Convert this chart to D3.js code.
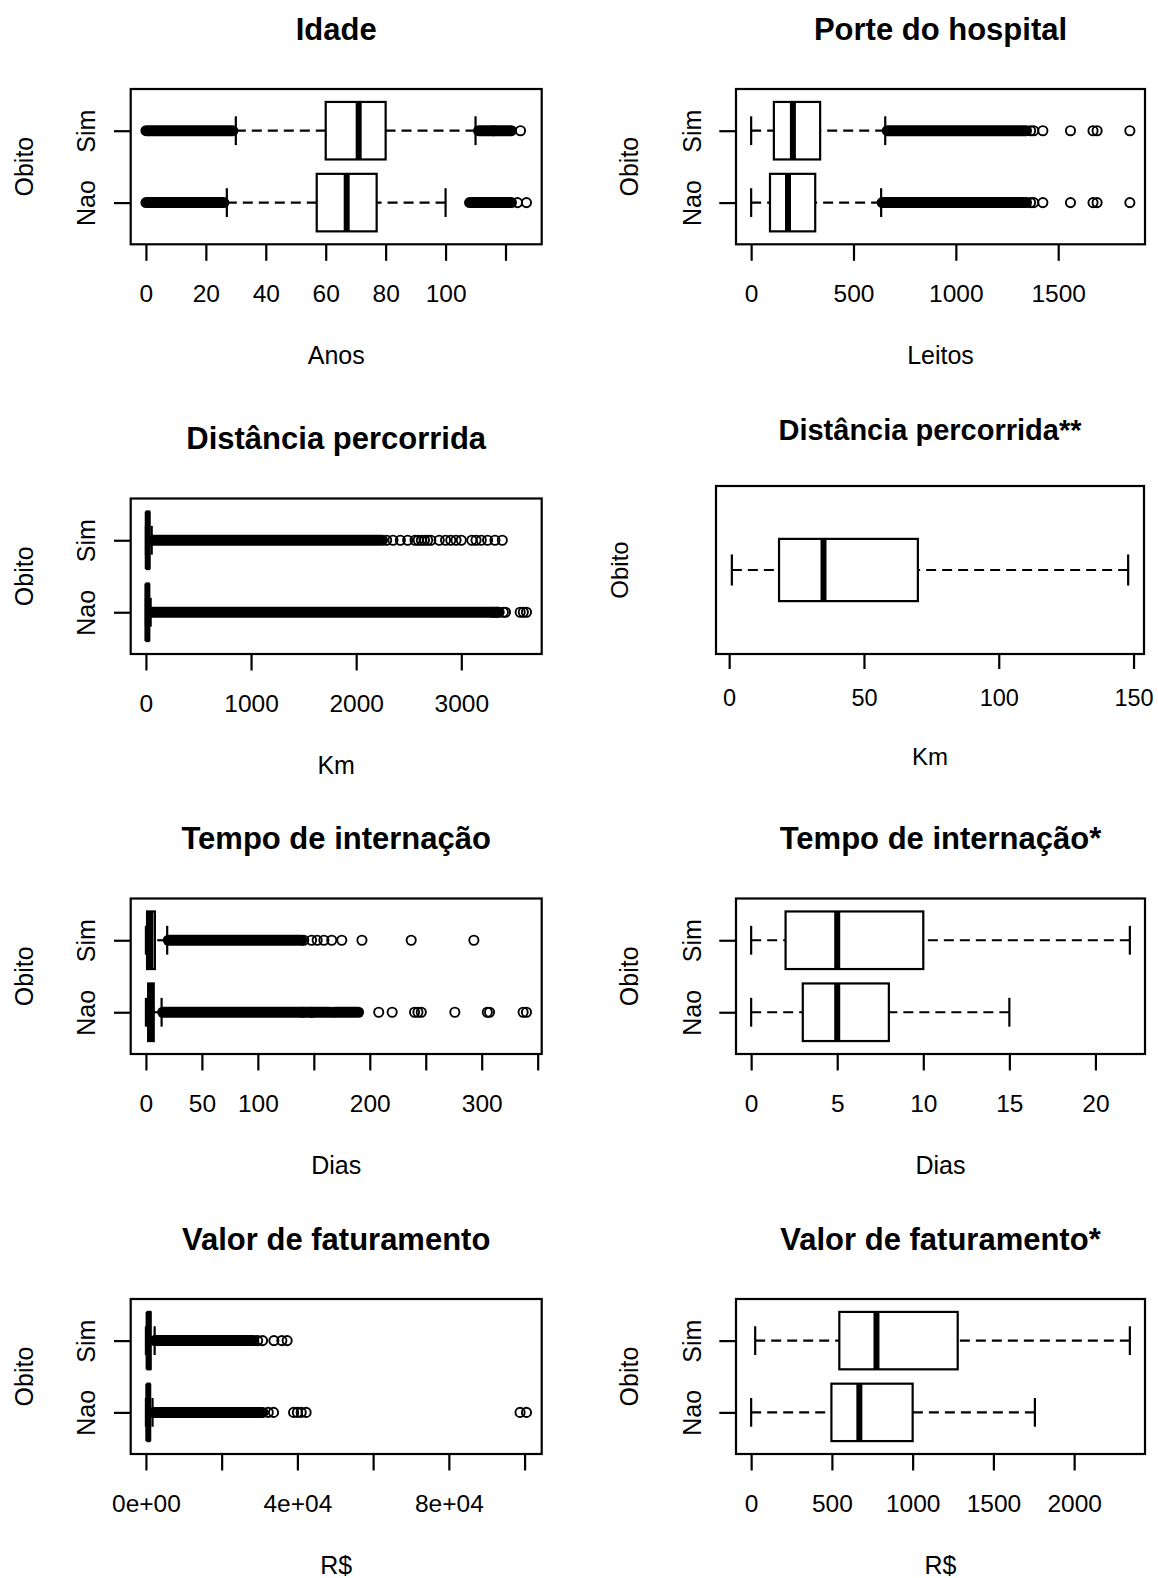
<!DOCTYPE html>
<html>
<head>
<meta charset="utf-8">
<script src="https://cdn.jsdelivr.net/npm/d3@7"></script>
<style>
  body { margin: 0; background: #ffffff; }
  svg { display: block; font-family: "Liberation Sans", Arial, sans-serif; }
</style>
</head>
<body>
<div id="d3-chart-wrapper"></div>
<script>
/**
 * Data (stats = [lower whisker, Q1, median, Q3, upper whisker])
 * runs = stretches of outliers so dense that the circles merge
 */
const groups = ["Nao", "Sim"];

// Idade
const idadeSim = [30, 60, 71, 80, 110];
const idadeNao = [27, 57, 67, 77, 100];
const idadeSimRuns = [[0, 29], [111, 122]];
const idadeNaoRuns = [[0, 26], [108, 122]];
const idadeSimOut = [116, 125];
const idadeNaoOut = [124, 127];
const idadeTicks = [0, 20, 40, 60, 80, 100, 120];
const idadeLabels = ["0", "20", "40", "60", "80", "100", ""];

// Porte do hospital
const leitosSim = [0, 111, 204, 337, 655];
const leitosNao = [0, 92, 180, 313, 635];
const leitosSimRuns = [[665, 1345]];
const leitosNaoRuns = [[640, 1345]];
const leitosSimOut = [1365, 1380, 1425, 1560, 1670, 1690, 1850];
const leitosNaoOut = [1365, 1380, 1425, 1560, 1670, 1690, 1850];
const leitosTicks = [0, 500, 1000, 1500];
const leitosLabels = ["0", "500", "1000", "1500"];

// Distancia percorrida
const kmSim = [0, 8, 17, 30, 55];
const kmNao = [0, 6, 14, 26, 45];
const kmSimRuns = [[57, 2250]];
const kmNaoRuns = [[47, 3360]];
const kmSimOut = [2290, 2350, 2420, 2490, 2560, 2590, 2620, 2650, 2680, 2710,
  2790, 2850, 2900, 2950, 3000, 3100, 3140, 3190, 3250, 3320, 3390];
const kmNaoOut = [3300, 3340, 3400, 3420, 3560, 3590, 3620];
const kmTicks = [0, 1000, 2000, 3000];
const kmLabels = ["0", "1000", "2000", "3000"];

// Distancia percorrida**
const kmSub = [1, 18.5, 35, 70, 148];
const kmSubTicks = [0, 50, 100, 150];
const kmSubLabels = ["0", "50", "100", "150"];

// Tempo de internacao
const diasSim = [0, 1, 4, 8, 19];
const diasNao = [0, 2, 4, 7, 14];
const diasSimRuns = [[20, 139]];
const diasNaoRuns = [[15, 164], [169, 190]];
const diasSimOut = [141, 148, 153, 159, 166, 175, 193, 237, 293];
const diasNaoOut = [140, 148, 167, 208, 220, 240, 243, 246, 276, 305, 307, 337, 340];
const diasTicks = [0, 50, 100, 150, 200, 250, 300, 350];
const diasLabels = ["0", "50", "100", "", "200", "", "300", ""];

// Tempo de internacao*
const diasSubSim = [0, 2, 5, 10, 22];
const diasSubNao = [0, 3, 5, 8, 15];
const diasSubTicks = [0, 5, 10, 15, 20];
const diasSubLabels = ["0", "5", "10", "15", "20"];

// Valor de faturamento
const valorSim = [0, 450, 700, 1200, 2300];
const valorNao = [0, 420, 620, 950, 1750];
const valorSimRuns = [[2350, 28500]];
const valorNaoRuns = [[1800, 30900]];
const valorSimOut = [29500, 30800, 33800, 35900, 37300];
const valorNaoOut = [32300, 33700, 39000, 40000, 41000, 42300, 98800, 100500];
const valorTicks = [0, 20000, 40000, 60000, 80000, 100000];
const valorLabels = ["0e+00", "", "4e+04", "", "8e+04", ""];

// Valor de faturamento*
const valorSubSim = [25, 546, 776, 1279, 2345];
const valorSubNao = [0, 497, 670, 1000, 1757];
const valorSubTicks = [0, 500, 1000, 1500, 2000];
const valorSubLabels = ["0", "500", "1000", "1500", "2000"];

/**
 * Basic Settings
 */
const canvasWidth = 1158;
const canvasHeight = 1578;

const leftCol = [130.7, 541.7];
const rightCol = [736, 1145];
const rows = [[89, 244.3], [498.5, 654], [898.5, 1054], [1299, 1454]];

const normal = { titleSize: 31, titleGap: 49.5, tickSize: 24.5, tickLen: 16.5, tickText: 57.5,
  labelSize: 25, labelGap: 120, yLabelGap: 98 };
const small = { titleSize: 29, titleGap: 46, tickSize: 23.5, tickLen: 15, tickText: 52,
  labelSize: 24, labelGap: 110.5, yLabelGap: 88.4 };

function two(sim, nao, simRuns, naoRuns, simOut, naoOut) {
  return [
    { stats: nao, runs: naoRuns || [], out: naoOut || [] },
    { stats: sim, runs: simRuns || [], out: simOut || [] }
  ];
}

const panels = [
  { title: "Idade", xlab: "Anos", x: leftCol, y: rows[0], f: normal,
    series: two(idadeSim, idadeNao, idadeSimRuns, idadeNaoRuns, idadeSimOut, idadeNaoOut),
    ticks: idadeTicks, labels: idadeLabels },
  { title: "Porte do hospital", xlab: "Leitos", x: rightCol, y: rows[0], f: normal,
    series: two(leitosSim, leitosNao, leitosSimRuns, leitosNaoRuns, leitosSimOut, leitosNaoOut),
    ticks: leitosTicks, labels: leitosLabels },
  { title: "Distância percorrida", xlab: "Km", x: leftCol, y: rows[1], f: normal,
    series: two(kmSim, kmNao, kmSimRuns, kmNaoRuns, kmSimOut, kmNaoOut),
    ticks: kmTicks, labels: kmLabels },
  { title: "Distância percorrida**", xlab: "Km", x: [716, 1144], y: [486, 654], f: small,
    series: [{ stats: kmSub, runs: [], out: [] }], noGroups: true,
    ticks: kmSubTicks, labels: kmSubLabels },
  { title: "Tempo de internação", xlab: "Dias", x: leftCol, y: rows[2], f: normal,
    series: two(diasSim, diasNao, diasSimRuns, diasNaoRuns, diasSimOut, diasNaoOut),
    ticks: diasTicks, labels: diasLabels },
  { title: "Tempo de internação*", xlab: "Dias", x: rightCol, y: rows[2], f: normal,
    series: two(diasSubSim, diasSubNao),
    ticks: diasSubTicks, labels: diasSubLabels },
  { title: "Valor de faturamento", xlab: "R$", x: leftCol, y: rows[3], f: normal,
    series: two(valorSim, valorNao, valorSimRuns, valorNaoRuns, valorSimOut, valorNaoOut),
    ticks: valorTicks, labels: valorLabels },
  { title: "Valor de faturamento*", xlab: "R$", x: rightCol, y: rows[3], f: normal,
    series: two(valorSubSim, valorSubNao),
    ticks: valorSubTicks, labels: valorSubLabels }
];

const svg = d3.select("#d3-chart-wrapper")
  .append("svg")
  .attr("width", canvasWidth)
  .attr("height", canvasHeight)
  .style("background", "#ffffff");

panels.forEach(drawPanel);

/**
 * Draw one boxplot panel (R style)
 */
function drawPanel(p) {
  const g = svg.append("g");
  const f = p.f;
  const [x0, x1] = p.x;
  const [y0, y1] = p.y;
  const n = p.series.length;

  // x range = data range + 4% on each side, like R
  const all = [];
  p.series.forEach(function(s) {
    all.push(...s.stats, ...s.out);
    s.runs.forEach(r => all.push(...r));
  });
  const ext = d3.extent(all);
  const pad = (ext[1] - ext[0]) * 0.04;
  const xScale = d3.scaleLinear()
    .domain([ext[0] - pad, ext[1] + pad])
    .range([x0, x1]);

  const yScale = d3.scaleLinear()
    .domain([0.5 - 0.04 * n, n + 0.5 + 0.04 * n])
    .range([y1, y0]);

  const boxHalf = n === 1 ? 0.2 : 0.4;
  const capHalf = boxHalf / 2;

  p.series.forEach(function(s, i) {
    const pos = i + 1;
    const cy = yScale(pos);
    const [lw, q1, med, q3, uw] = s.stats;
    const sg = g.append("g");

    // whiskers (dash pattern starts at the whisker end)
    [[lw, q1], [uw, q3]].forEach(function(w) {
      sg.append("line")
        .attr("x1", xScale(w[0])).attr("x2", xScale(w[1]))
        .attr("y1", cy).attr("y2", cy)
        .attr("stroke", "#000")
        .attr("stroke-width", 2.2)
        .attr("stroke-dasharray", "10,6");
    });
    [lw, uw].forEach(function(v) {
      sg.append("line")
        .attr("x1", xScale(v)).attr("x2", xScale(v))
        .attr("y1", yScale(pos - capHalf)).attr("y2", yScale(pos + capHalf))
        .attr("stroke", "#000")
        .attr("stroke-width", 2.2);
    });

    // box
    sg.append("rect")
      .attr("x", xScale(q1))
      .attr("y", yScale(pos + boxHalf))
      .attr("width", xScale(q3) - xScale(q1))
      .attr("height", yScale(pos - boxHalf) - yScale(pos + boxHalf))
      .attr("fill", "#fff")
      .attr("stroke", "#000")
      .attr("stroke-width", 2.2);

    sg.append("line")
      .attr("x1", xScale(med)).attr("x2", xScale(med))
      .attr("y1", yScale(pos + boxHalf)).attr("y2", yScale(pos - boxHalf))
      .attr("stroke", "#000")
      .attr("stroke-width", 6);

    // dense outliers
    sg.selectAll(".run")
      .data(s.runs)
      .enter()
      .append("line")
      .attr("class", "run")
      .attr("x1", d => xScale(d[0]))
      .attr("x2", d => xScale(d[1]))
      .attr("y1", cy).attr("y2", cy)
      .attr("stroke", "#000")
      .attr("stroke-width", 11)
      .attr("stroke-linecap", "round");

    // single outliers
    sg.selectAll(".out")
      .data(s.out)
      .enter()
      .append("circle")
      .attr("class", "out")
      .attr("cx", d => xScale(d))
      .attr("cy", cy)
      .attr("r", 4.6)
      .attr("fill", "none")
      .attr("stroke", "#000")
      .attr("stroke-width", 1.9);
  });

  // frame
  g.append("rect")
    .attr("x", x0).attr("y", y0)
    .attr("width", x1 - x0).attr("height", y1 - y0)
    .attr("fill", "none")
    .attr("stroke", "#000")
    .attr("stroke-width", 2.2);

  /**
   * Axis
   */
  const xAxis = d3.axisBottom(xScale)
    .tickValues(p.ticks)
    .tickFormat((d, i) => p.labels[i])
    .tickSize(f.tickLen)
    .tickSizeOuter(0);

  const ax = g.append("g")
    .attr("transform", "translate(0," + y1 + ")")
    .call(xAxis);
  ax.select(".domain").remove();
  ax.selectAll("line").attr("stroke", "#000").attr("stroke-width", 2.2);
  ax.selectAll("text")
    .attr("y", f.tickText)
    .attr("dy", null)
    .attr("fill", "#000")
    .style("font-size", f.tickSize + "px")
    .style("font-family", "'Liberation Sans', Arial, sans-serif");

  if (!p.noGroups) {
    const yAxis = d3.axisLeft(yScale)
      .tickValues([1, 2])
      .tickFormat(d => groups[d - 1])
      .tickSize(16.7)
      .tickSizeOuter(0);
    const ay = g.append("g")
      .attr("transform", "translate(" + x0 + ",0)")
      .call(yAxis);
    ay.select(".domain").remove();
    ay.selectAll("line").attr("stroke", "#000").attr("stroke-width", 2.2);
    ay.selectAll("text")
      .attr("x", null)
      .attr("dy", null)
      .attr("transform", "translate(-35.5,0) rotate(-90)")
      .attr("text-anchor", "middle")
      .attr("fill", "#000")
      .style("font-size", f.labelSize + "px")
      .style("font-family", "'Liberation Sans', Arial, sans-serif");
  }

  // titles
  g.append("text")
    .attr("x", (x0 + x1) / 2)
    .attr("y", y0 - f.titleGap)
    .attr("text-anchor", "middle")
    .style("font-size", f.titleSize + "px")
    .style("font-weight", "bold")
    .text(p.title);

  g.append("text")
    .attr("x", (x0 + x1) / 2)
    .attr("y", y1 + f.labelGap)
    .attr("text-anchor", "middle")
    .style("font-size", f.labelSize + "px")
    .text(p.xlab);

  g.append("text")
    .attr("transform", "translate(" + (x0 - f.yLabelGap) + "," + ((y0 + y1) / 2) + ") rotate(-90)")
    .attr("text-anchor", "middle")
    .style("font-size", f.labelSize + "px")
    .text("Obito");
}
</script>
</body>
</html>
